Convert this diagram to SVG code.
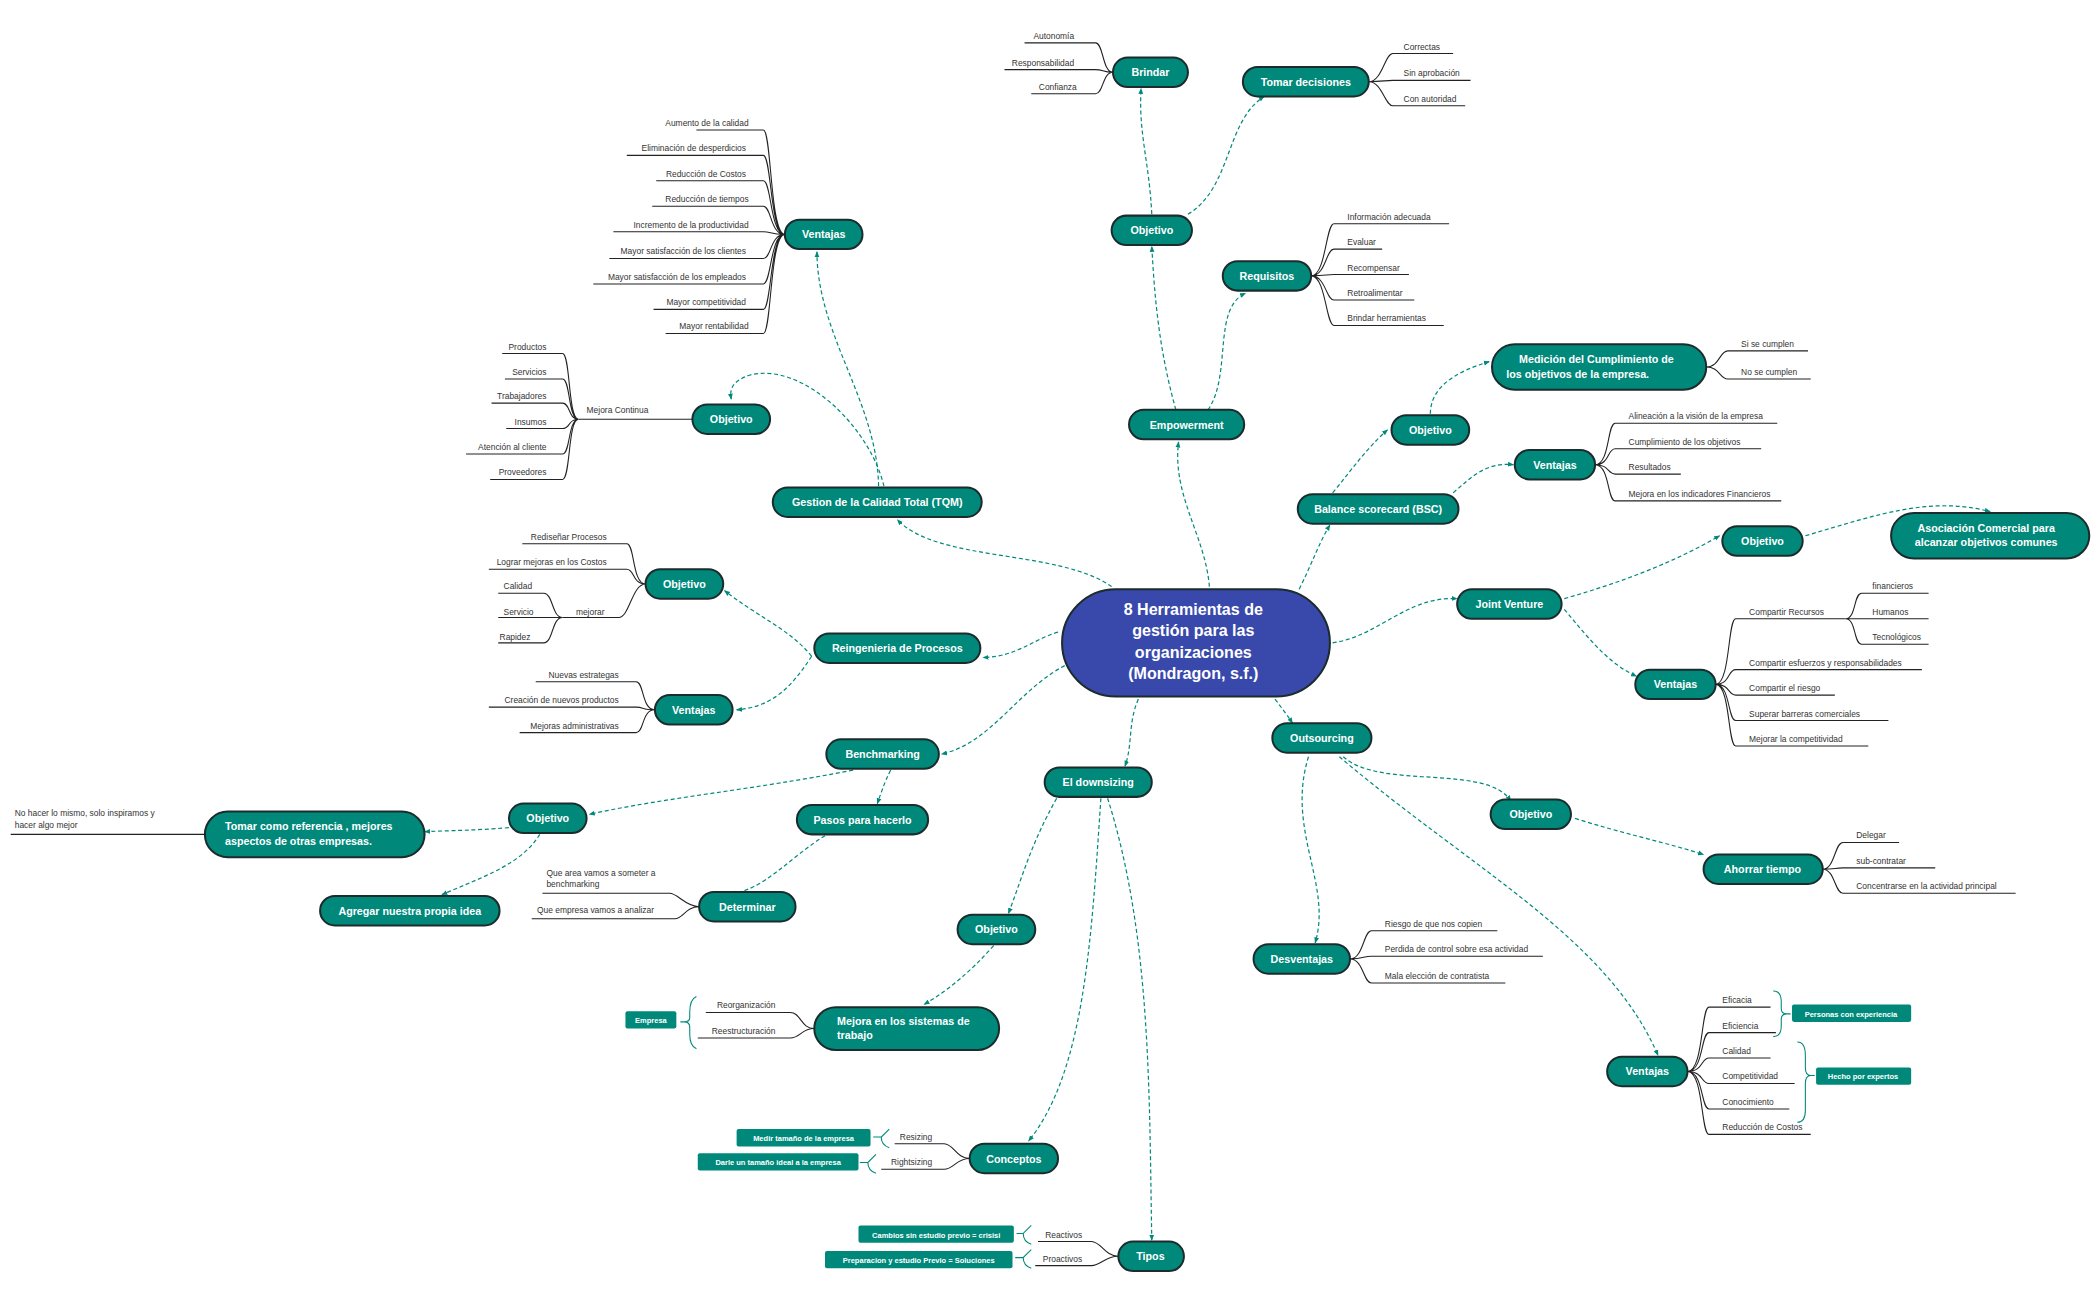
<svg xmlns="http://www.w3.org/2000/svg" width="2100" height="1300" viewBox="0 0 2100 1300">
<style>
.n rect{fill:#00897b;stroke:#1c2b2b;stroke-width:1.5}
.n text{fill:#fff;font-family:"Liberation Sans",Arial,sans-serif;font-weight:bold;font-size:8px;text-anchor:middle}
.lf{fill:none;stroke:#222;stroke-width:.8}
.lt{fill:#333;font-family:"Liberation Sans",Arial,sans-serif;font-size:6.3px}
.le{text-anchor:end}
.c{fill:none;stroke:#00897b;stroke-width:.9;stroke-dasharray:3 2}
.br{fill:none;stroke:#00897b;stroke-width:.8}
.tg rect{fill:#00897b}
.tg text{fill:#fff;font-family:"Liberation Sans",Arial,sans-serif;font-weight:bold;font-size:5.6px;text-anchor:middle}
</style>
<defs><marker id="a" viewBox="0 0 10 10" refX="9" refY="5" markerWidth="5" markerHeight="5" orient="auto"><path d="M0,1 L10,5 L0,9 z" fill="#00897b"/></marker></defs>
<rect width="2100" height="1300" fill="#fff"/>
<g transform="scale(1.33929)">
<g id="connectors" marker-end="url(#a)">
<path class="c" marker-end="url(#a)" d="M830,438 C790,410 700,420 670,388"/>
<path class="c" marker-end="url(#a)" d="M903,438 C900,400 875,370 880,330"/>
<path class="c" marker-end="url(#a)" d="M878,306 C865,260 862,220 860,184"/>
<path class="c" marker-end="url(#a)" d="M902,306 C920,280 905,230 930,219"/>
<path class="c" d="M860,160 C858,120 850,100 852,66"/>
<path class="c" marker-end="url(#a)" d="M887,160 C920,140 915,90 944,72"/>
<path class="c" marker-end="url(#a)" d="M970,440 C980,420 985,405 993,392"/>
<path class="c" marker-end="url(#a)" d="M995,368 C1010,350 1020,335 1036,321"/>
<path class="c" marker-end="url(#a)" d="M1085,368 C1100,355 1110,345 1130,347"/>
<path class="c" marker-end="url(#a)" d="M1068,309 C1068,290 1085,278 1112,270"/>
<path class="c" marker-end="url(#a)" d="M995,480 C1030,475 1050,445 1088,447"/>
<path class="c" marker-end="url(#a)" d="M1168,447 C1210,435 1250,420 1284,400"/>
<path class="c" marker-end="url(#a)" d="M1348,400 C1400,385 1440,370 1486,382"/>
<path class="c" marker-end="url(#a)" d="M1168,455 C1185,475 1200,495 1222,505"/>
<path class="c" d="M952,522 C958,530 962,535 965,540"/>
<path class="c" marker-end="url(#a)" d="M1003,565 C1030,590 1110,570 1128,598"/>
<path class="c" d="M1176,611 C1210,622 1240,628 1272,638"/>
<path class="c" marker-end="url(#a)" d="M977,565 C960,620 995,660 982,704"/>
<path class="c" marker-end="url(#a)" d="M1000,565 C1100,650 1200,700 1238,788"/>
<path class="c" marker-end="url(#a)" d="M850,522 C842,540 846,555 840,572"/>
<path class="c" marker-end="url(#a)" d="M789,596 C770,630 765,650 753,682"/>
<path class="c" marker-end="url(#a)" d="M742,706 C725,725 710,738 690,750"/>
<path class="c" marker-end="url(#a)" d="M822,596 C815,700 810,800 768,852"/>
<path class="c" marker-end="url(#a)" d="M827,596 C860,700 858,820 860,926"/>
<path class="c" marker-end="url(#a)" d="M795,497 C760,515 740,555 703,563"/>
<path class="c" d="M637,575 C560,590 500,595 440,608"/>
<path class="c" d="M665,575 C660,585 658,592 655,600"/>
<path class="c" marker-end="url(#a)" d="M616,624 C590,640 570,665 546,667"/>
<path class="c" d="M380,618 C355,620 340,620 317,621"/>
<path class="c" d="M403,623 C390,645 360,655 330,668"/>
<path class="c" marker-end="url(#a)" d="M790,472 C770,478 760,490 734,491"/>
<path class="c" marker-end="url(#a)" d="M606,490 C590,470 565,460 541,441"/>
<path class="c" marker-end="url(#a)" d="M606,490 C590,515 575,528 550,530"/>
<path class="c" marker-end="url(#a)" d="M660,363 C650,320 600,270 560,280 C545,285 545,292 546,298"/>
<path class="c" marker-end="url(#a)" d="M656,363 C655,300 610,250 610,188"/>
</g>

<g id="central">
<rect x="793" y="440" width="200" height="80" rx="40" fill="#3949ab" stroke="#1c2b2b" stroke-width="1.5"/>
<g font-family="'Liberation Sans',Arial,sans-serif" font-weight="bold" font-size="12" fill="#fff" text-anchor="middle">
<text x="891" y="459">8 Herramientas de</text><text x="891" y="475">gestión para las</text><text x="891" y="491">organizaciones</text><text x="891" y="507">(Mondragon, s.f.)</text></g>
</g>

<!-- Empowerment -->
<g id="brindar" class="n"><rect x="831" y="43" width="56" height="22" rx="11"/><text x="859" y="57">Brindar</text></g>
<g id="brindar-leaves">
<path class="lf" d="M831,54 C823,54 824,32 818,32 H765 M831,54 C823,54 824,52 818,52 H750 M831,54 C823,54 824,70 818,70 H770"/>
<text class="lt le" x="802" y="29">Autonomía</text><text class="lt le" x="802" y="49">Responsabilidad</text><text class="lt le" x="804" y="67">Confianza</text>
</g>
<g id="tomar" class="n"><rect x="928" y="50" width="94" height="22" rx="11"/><text x="975" y="64">Tomar decisiones</text></g>
<g id="tomar-leaves">
<path class="lf" d="M1022,61 C1032,61 1034,40 1040,40 H1085 M1022,61 C1032,61 1034,60 1040,60 H1098 M1022,61 C1032,61 1034,79 1040,79 H1094"/>
<text class="lt" x="1048" y="37">Correctas</text><text class="lt" x="1048" y="57">Sin aprobación</text><text class="lt" x="1048" y="76">Con autoridad</text>
</g>
<g id="obj-emp" class="n"><rect x="830" y="161" width="60" height="22" rx="11"/><text x="860" y="175">Objetivo</text></g>
<g id="requisitos" class="n"><rect x="913" y="195" width="66" height="22" rx="11"/><text x="946" y="209">Requisitos</text></g>
<g id="req-leaves">
<path class="lf" d="M979,206 C990,206 990,167 996,167 H1082 M979,206 C990,206 990,186 996,186 H1032 M979,206 C990,206 990,205 996,205 H1052 M979,206 C990,206 990,224 996,224 H1056 M979,206 C990,206 990,243 996,243 H1078"/>
<text class="lt" x="1006" y="164">Información adecuada</text><text class="lt" x="1006" y="183">Evaluar</text><text class="lt" x="1006" y="202">Recompensar</text><text class="lt" x="1006" y="221">Retroalimentar</text><text class="lt" x="1006" y="240">Brindar herramientas</text>
</g>
<g id="empowerment" class="n"><rect x="843" y="306" width="86" height="22" rx="11"/><text x="886" y="320">Empowerment</text></g>

<!-- BSC -->
<g id="medicion" class="n"><rect x="1114" y="257" width="160" height="34" rx="17"/><text x="1192" y="271">Medición del Cumplimiento de</text><text x="1178" y="282">los objetivos de la empresa.</text></g>
<g id="med-leaves">
<path class="lf" d="M1274,274 C1284,274 1284,262 1290,262 H1350 M1274,274 C1284,274 1284,283 1290,283 H1352"/>
<text class="lt" x="1300" y="259">Si se cumplen</text><text class="lt" x="1300" y="280">No se cumplen</text>
</g>
<g id="obj-bsc" class="n"><rect x="1039" y="310" width="58" height="22" rx="11"/><text x="1068" y="324">Objetivo</text></g>
<g id="vent-bsc" class="n"><rect x="1131" y="336" width="60" height="22" rx="11"/><text x="1161" y="350">Ventajas</text></g>
<g id="vent-bsc-leaves">
<path class="lf" d="M1191,347 C1202,347 1200,316 1206,316 H1327 M1191,347 C1202,347 1200,335 1206,335 H1315 M1191,347 C1202,347 1200,354 1206,354 H1255 M1191,347 C1202,347 1200,374 1206,374 H1330"/>
<text class="lt" x="1216" y="313">Alineación a la visión de la empresa</text><text class="lt" x="1216" y="332">Cumplimiento de los objetivos</text><text class="lt" x="1216" y="351">Resultados</text><text class="lt" x="1216" y="371">Mejora en los indicadores Financieros</text>
</g>
<g id="bsc" class="n"><rect x="969" y="369" width="120" height="22" rx="11"/><text x="1029" y="383">Balance scorecard (BSC)</text></g>

<!-- Joint venture -->
<g id="obj-jv" class="n"><rect x="1286" y="393" width="60" height="22" rx="11"/><text x="1316" y="407">Objetivo</text></g>
<g id="asociacion" class="n"><rect x="1412" y="383" width="148" height="34" rx="17"/><text x="1483" y="397">Asociación Comercial para</text><text x="1483" y="408">alcanzar objetivos comunes</text></g>
<g id="jv" class="n"><rect x="1088" y="440" width="78" height="22" rx="11"/><text x="1127" y="454">Joint Venture</text></g>
<g id="vent-jv" class="n"><rect x="1221" y="500" width="60" height="22" rx="11"/><text x="1251" y="514">Ventajas</text></g>
<g id="vent-jv-leaves">
<path class="lf" d="M1281,511 C1292,511 1290,462 1296,462 H1378 M1281,511 C1292,511 1290,500 1296,500 H1435 M1281,511 C1292,511 1290,519 1296,519 H1370 M1281,511 C1292,511 1290,538 1296,538 H1410 M1281,511 C1292,511 1290,557 1296,557 H1395"/>
<path class="lf" d="M1378,462 C1386,462 1384,443 1390,443 H1440 M1378,462 H1440 M1378,462 C1386,462 1384,481 1390,481 H1440"/>
<text class="lt" x="1306" y="459">Compartir Recursos</text><text class="lt" x="1306" y="497">Compartir esfuerzos y responsabilidades</text><text class="lt" x="1306" y="516">Compartir el riesgo</text><text class="lt" x="1306" y="535">Superar barreras comerciales</text><text class="lt" x="1306" y="554">Mejorar la competitividad</text>
<text class="lt" x="1398" y="440">financieros</text><text class="lt" x="1398" y="459">Humanos</text><text class="lt" x="1398" y="478">Tecnológicos</text>
</g>

<!-- Outsourcing -->
<g id="outsourcing" class="n"><rect x="950" y="540" width="74" height="22" rx="11"/><text x="987" y="554">Outsourcing</text></g>
<g id="obj-out" class="n"><rect x="1113" y="597" width="60" height="22" rx="11"/><text x="1143" y="611">Objetivo</text></g>
<g id="ahorrar" class="n"><rect x="1272" y="638" width="89" height="22" rx="11"/><text x="1316" y="652">Ahorrar tiempo</text></g>
<g id="ahorrar-leaves">
<path class="lf" d="M1361,649 C1370,649 1370,629 1376,629 H1418 M1361,649 C1370,649 1370,648 1376,648 H1445 M1361,649 C1370,649 1370,667 1376,667 H1505"/>
<text class="lt" x="1386" y="626">Delegar</text><text class="lt" x="1386" y="645">sub-contratar</text><text class="lt" x="1386" y="664">Concentrarse en la actividad principal</text>
</g>
<g id="desventajas" class="n"><rect x="936" y="705" width="72" height="22" rx="11"/><text x="972" y="719">Desventajas</text></g>
<g id="desv-leaves">
<path class="lf" d="M1008,716 C1018,716 1018,695 1024,695 H1118 M1008,716 C1018,716 1018,714 1024,714 H1152 M1008,716 C1018,716 1018,734 1024,734 H1124"/>
<text class="lt" x="1034" y="692">Riesgo de que nos copien</text><text class="lt" x="1034" y="711">Perdida de control sobre esa actividad</text><text class="lt" x="1034" y="731">Mala elección de contratista</text>
</g>
<g id="vent-out" class="n"><rect x="1200" y="789" width="60" height="22" rx="11"/><text x="1230" y="803">Ventajas</text></g>
<g id="vent-out-leaves">
<path class="lf" d="M1260,800 C1272,800 1270,752 1276,752 H1322 M1260,800 C1272,800 1270,771 1276,771 H1326 M1260,800 C1272,800 1270,790 1276,790 H1322 M1260,800 C1272,800 1270,809 1276,809 H1340 M1260,800 C1272,800 1270,828 1276,828 H1336 M1260,800 C1272,800 1270,847 1276,847 H1352"/>
<text class="lt" x="1286" y="749">Eficacia</text><text class="lt" x="1286" y="768">Eficiencia</text><text class="lt" x="1286" y="787">Calidad</text><text class="lt" x="1286" y="806">Competitividad</text><text class="lt" x="1286" y="825">Conocimiento</text><text class="lt" x="1286" y="844">Reducción de Costos</text>
<path class="br" d="M1324,740 Q1330,740 1330,748 V753 Q1330,757 1334,757 Q1330,757 1330,761 V766 Q1330,774 1324,774 M1334,757 H1337"/>
<path class="br" d="M1342,778 Q1348,778 1348,788 V797 Q1348,803 1352,803 Q1348,803 1348,809 V829 Q1348,838 1342,838 M1352,803 H1355"/>
</g>
<g class="tg" id="tag-personas"><rect x="1338" y="750" width="89" height="13" rx="1.5"/><text x="1382" y="759">Personas con experiencia</text></g>
<g class="tg" id="tag-hecho"><rect x="1356" y="797" width="71" height="13" rx="1.5"/><text x="1391" y="806">Hecho por expertos</text></g>

<!-- Downsizing -->
<g id="downsizing" class="n"><rect x="780" y="573" width="80" height="22" rx="11"/><text x="820" y="587">El downsizing</text></g>
<g id="obj-ds" class="n"><rect x="715" y="683" width="58" height="22" rx="11"/><text x="744" y="697">Objetivo</text></g>
<g id="mejora" class="n"><rect x="608" y="752" width="138" height="32" rx="16"/><text x="625" y="765" style="text-anchor:start">Mejora en los sistemas de</text><text x="625" y="776" style="text-anchor:start">trabajo</text></g>
<g id="mejora-leaves">
<path class="lf" d="M608,768 C598,768 598,756 590,756 H527 M608,768 C598,768 598,775 590,775 H521"/>
<text class="lt le" x="579" y="753">Reorganización</text><text class="lt le" x="579" y="772">Reestructuración</text>
<path class="br" d="M520,744 Q515,746 515,756 V760 Q515,763 511,763 Q515,763 515,767 V772 Q515,781 520,783 M511,763 H508"/>
</g>
<g class="tg" id="tag-empresa"><rect x="467" y="755" width="38" height="13" rx="1.5"/><text x="486" y="764">Empresa</text></g>
<g id="conceptos" class="n"><rect x="724" y="854" width="66" height="22" rx="11"/><text x="757" y="868">Conceptos</text></g>
<g id="conceptos-leaves">
<path class="lf" d="M724,865 C714,865 712,854 705,854 H668 M724,865 C714,865 712,873 705,873 H658"/>
<text class="lt le" x="696" y="851">Resizing</text><text class="lt le" x="696" y="870">Rightsizing</text>
<path class="br" d="M664,843 Q658,849 658,849 Q658,855 664,857 M658,849 H652 M654,862 Q648,868 648,868 Q648,874 654,876 M648,868 H642"/>
</g>
<g class="tg" id="tag-medir"><rect x="550" y="843" width="100" height="13" rx="1.5"/><text x="600" y="852">Medir tamaño de la empresa</text></g>
<g class="tg" id="tag-darle"><rect x="521" y="861" width="120" height="13" rx="1.5"/><text x="581" y="870">Darle un tamaño ideal a la empresa</text></g>
<g id="tipos" class="n"><rect x="835" y="927" width="49" height="22" rx="11"/><text x="859" y="941">Tipos</text></g>
<g id="tipos-leaves">
<path class="lf" d="M835,938 C825,938 822,927 815,927 H775 M835,938 C825,938 822,945 815,945 H773"/>
<text class="lt le" x="808" y="924">Reactivos</text><text class="lt le" x="808" y="942">Proactivos</text>
<path class="br" d="M770,915 Q764,921 764,921 Q764,927 770,929 M764,921 H759 M770,933 Q764,939 764,939 Q764,945 770,947 M764,939 H758"/>
</g>
<g class="tg" id="tag-cambios"><rect x="641" y="915" width="116" height="13" rx="1.5"/><text x="699" y="924">Cambios sin estudio previo = crisisi</text></g>
<g class="tg" id="tag-prep"><rect x="616" y="934" width="140" height="13" rx="1.5"/><text x="686" y="943">Preparacion y estudio Previo = Soluciones</text></g>

<!-- Benchmarking -->
<g id="benchmarking" class="n"><rect x="617" y="552" width="84" height="22" rx="11"/><text x="659" y="566">Benchmarking</text></g>
<g id="obj-bm" class="n"><rect x="380" y="600" width="58" height="22" rx="11"/><text x="409" y="614">Objetivo</text></g>
<g id="tomar-ref" class="n"><rect x="153" y="606" width="164" height="34" rx="17"/><text x="168" y="620" style="text-anchor:start">Tomar como referencia , mejores</text><text x="168" y="631" style="text-anchor:start">aspectos de otras empresas.</text></g>
<g id="tomar-ref-leaf">
<path class="lf" d="M153,623 H8"/>
<text class="lt" x="11" y="609">No hacer lo mismo, solo inspiramos y</text><text class="lt" x="11" y="618">hacer algo mejor</text>
</g>
<g id="agregar" class="n"><rect x="239" y="669" width="134" height="22" rx="11"/><text x="306" y="683">Agregar nuestra propia idea</text></g>
<g id="pasos" class="n"><rect x="595" y="601" width="98" height="22" rx="11"/><text x="644" y="615">Pasos para hacerlo</text></g>
<g id="determinar" class="n"><rect x="522" y="666" width="72" height="22" rx="11"/><text x="558" y="680">Determinar</text></g>
<g id="determinar-leaves">
<path class="lf" d="M522,677 C512,677 506,667 500,667 H405 M522,677 C512,677 510,686 504,686 H397"/>
<text class="lt" x="408" y="654">Que area vamos a someter a</text><text class="lt" x="408" y="662">benchmarking</text><text class="lt" x="401" y="682">Que empresa vamos a analizar</text>
</g>

<!-- Reingenieria -->
<g id="reingenieria" class="n"><rect x="608" y="473" width="124" height="22" rx="11"/><text x="670" y="487">Reingenieria de Procesos</text></g>
<g id="obj-re" class="n"><rect x="482" y="425" width="58" height="22" rx="11"/><text x="511" y="439">Objetivo</text></g>
<g id="obj-re-leaves">
<path class="lf" d="M482,436 C472,436 474,406 468,406 H390 M482,436 C472,436 474,425 468,425 H365 M482,436 C472,436 470,461 462,461 H420"/>
<path class="lf" d="M420,461 C412,461 413,443 406,443 H372 M420,461 H372 M420,461 C412,461 413,480 406,480 H372"/>
<text class="lt le" x="453" y="403">Rediseñar Procesos</text><text class="lt le" x="453" y="422">Lograr mejoras en los Costos</text><text class="lt" x="430" y="459">mejorar</text>
<text class="lt" x="376" y="440">Calidad</text><text class="lt" x="376" y="459">Servicio</text><text class="lt" x="373" y="478">Rapidez</text>
</g>
<g id="vent-re" class="n"><rect x="489" y="519" width="58" height="22" rx="11"/><text x="518" y="533">Ventajas</text></g>
<g id="vent-re-leaves">
<path class="lf" d="M489,530 C479,530 481,509 475,509 H400 M489,530 C479,530 481,528 475,528 H365 M489,530 C479,530 481,547 475,547 H388"/>
<text class="lt le" x="462" y="506">Nuevas estrategas</text><text class="lt le" x="462" y="525">Creación de nuevos productos</text><text class="lt le" x="462" y="544">Mejoras administrativas</text>
</g>

<!-- TQM -->
<g id="tqm" class="n"><rect x="577" y="364" width="156" height="22" rx="11"/><text x="655" y="378">Gestion de la Calidad Total (TQM)</text></g>
<g id="obj-tqm" class="n"><rect x="517" y="302" width="58" height="22" rx="11"/><text x="546" y="316">Objetivo</text></g>
<g id="obj-tqm-leaves">
<path class="lf" d="M517,313 H432"/>
<path class="lf" d="M432,313 C424,313 426,264 420,264 H375 M432,313 C424,313 426,283 420,283 H377 M432,313 C424,313 426,301 420,301 H367 M432,313 C424,313 426,320 420,320 H378 M432,313 C424,313 426,339 420,339 H348 M432,313 C424,313 426,358 420,358 H366"/>
<text class="lt" x="438" y="308">Mejora Continua</text>
<text class="lt le" x="408" y="261">Productos</text><text class="lt le" x="408" y="280">Servicios</text><text class="lt le" x="408" y="298">Trabajadores</text><text class="lt le" x="408" y="317">Insumos</text><text class="lt le" x="408" y="336">Atención al cliente</text><text class="lt le" x="408" y="355">Proveedores</text>
</g>
<g id="vent-tqm" class="n"><rect x="586" y="164" width="58" height="22" rx="11"/><text x="615" y="178">Ventajas</text></g>
<g id="vent-tqm-leaves">
<path class="lf" d="M586,175 C575,175 576,97 570,97 H520 M586,175 C575,175 576,116 570,116 H468 M586,175 C575,175 576,135 570,135 H490 M586,175 C575,175 576,154 570,154 H487 M586,175 C575,175 576,173 570,173 H458 M586,175 C575,175 576,193 570,193 H455 M586,175 C575,175 576,212 570,212 H443 M586,175 C575,175 576,231 570,231 H488 M586,175 C575,175 576,249 570,249 H497"/>
<text class="lt le" x="559" y="94">Aumento de la calidad</text><text class="lt le" x="557" y="113">Eliminación de desperdicios</text><text class="lt le" x="557" y="132">Reducción de Costos</text><text class="lt le" x="559" y="151">Reducción de tiempos</text><text class="lt le" x="559" y="170">Incremento de la productividad</text><text class="lt le" x="557" y="190">Mayor satisfacción de los clientes</text><text class="lt le" x="557" y="209">Mayor satisfacción de los empleados</text><text class="lt le" x="557" y="228">Mayor competitividad</text><text class="lt le" x="559" y="246">Mayor rentabilidad</text>
</g>
</g>
</svg>
